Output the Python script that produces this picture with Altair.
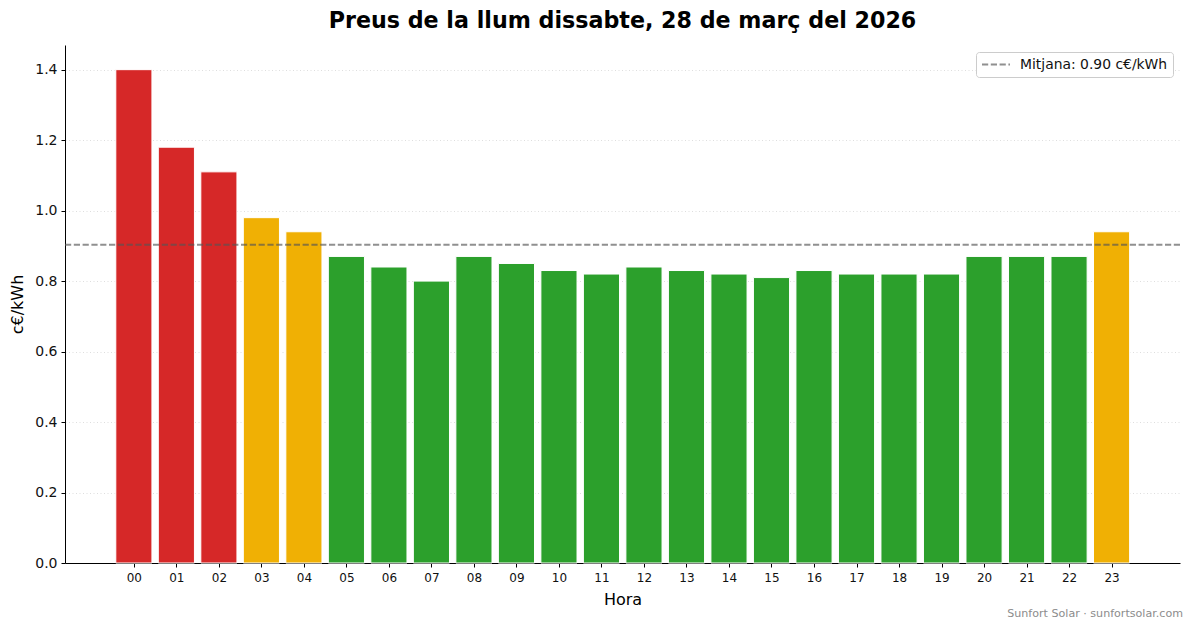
import altair as alt
import pandas as pd

hours = list(range(24))
prices = [1.40, 1.18, 1.11, 0.98, 0.94, 0.87, 0.84, 0.80, 0.87, 0.85, 0.83, 0.82,
          0.84, 0.83, 0.82, 0.81, 0.83, 0.82, 0.82, 0.82, 0.87, 0.87, 0.87, 0.94]
levels = ["high", "high", "high", "mid", "mid"] + ["low"] * 18 + ["mid"]
mean_value = 0.903
mean_label = "Mitjana: 0.90 c€/kWh"
level_names = ["high", "mid", "low"]
level_colors = ["#d62828", "#f0b004", "#2ca02c"]
FONT = "DejaVu Sans"

df = pd.DataFrame({"hora": hours, "preu": prices, "nivell": levels})

x = alt.X("x0:Q", title="Hora",
          scale=alt.Scale(domain=[-1.62, 24.61], nice=False, zero=False),
          axis=alt.Axis(values=hours, format="02d", labelAngle=0, labelFontSize=12, titleFontSize=16,
                        titlePadding=8, titleFontWeight="normal", labelPadding=5, tickSize=4, grid=False,
                        domainColor="#000", tickColor="#000", labelColor="#111", titleColor="#000"))
y = alt.Y("preu:Q", title="c€/kWh",
          scale=alt.Scale(domain=[0, 1.47], nice=False),
          axis=alt.Axis(values=[0, 0.2, 0.4, 0.6, 0.8, 1.0, 1.2, 1.4], format=".1f",
                        labelFontSize=14, titleFontSize=16, titlePadding=9,
                        titleFontWeight="normal", labelPadding=4, tickSize=4,
                        grid=True, gridColor="#dedede", gridDash=[1, 2.5], gridWidth=1,
                        domainColor="#000", tickColor="#000", labelColor="#111", titleColor="#000"))

bars = alt.Chart(df).transform_calculate(
    x0="datum.hora - 0.425", x1="datum.hora + 0.425", base="0"
).mark_bar(cornerRadius=0, stroke="#ffffff", strokeWidth=1).encode(
    x=x, x2="x1:Q", y=y, y2="base:Q",
    color=alt.Color("nivell:N", scale=alt.Scale(domain=level_names, range=level_colors), legend=None),
)

mean_rule = alt.Chart(pd.DataFrame({"y": [mean_value], "label": [mean_label]})).mark_rule(
    color="#555555", opacity=0.65, strokeWidth=2
).encode(
    y=alt.Y("y:Q"),
    strokeDash=alt.StrokeDash(
        "label:N",
        scale=alt.Scale(domain=[mean_label], range=[[6.2, 2.6]]),
        legend=alt.Legend(title=None, orient="none", legendX=911, legendY=7,
                          labelFontSize=13.9, labelColor="#111", symbolType="stroke",
                          symbolStrokeColor="#555555", symbolOpacity=0.65, symbolStrokeWidth=2,
                          symbolSize=784, clipHeight=15,
                          strokeColor="#cccccc", fillColor="#ffffff", cornerRadius=3,
                          padding=5, labelOffset=9),
    ),
)

credit = alt.Chart(pd.DataFrame({"t": ["Sunfort Solar · sunfortsolar.com"]})).mark_text(
    align="right", baseline="middle", fontSize=11.1, color="#8c8c8c", font=FONT
).encode(text="t:N", x=alt.value(1118), y=alt.value(569))

chart = alt.layer(bars, mean_rule, credit).resolve_scale(color="independent").properties(
    width=1115,
    height=518,
    padding={"left": 57, "top": 37, "right": 5, "bottom": 57},
    autosize=alt.AutoSizeParams(type="none"),
    title=alt.Title("Preus de la llum dissabte, 28 de març del 2026", fontSize=22.2, fontWeight="bold",
                    font=FONT, color="#000", anchor="middle", offset=13),
).configure(font=FONT).configure_view(stroke=None).configure_axis(
    labelFont=FONT, titleFont=FONT
).configure_legend(labelFont=FONT)

chart.save("out.html", embed_options={"renderer": "svg", "actions": False})
